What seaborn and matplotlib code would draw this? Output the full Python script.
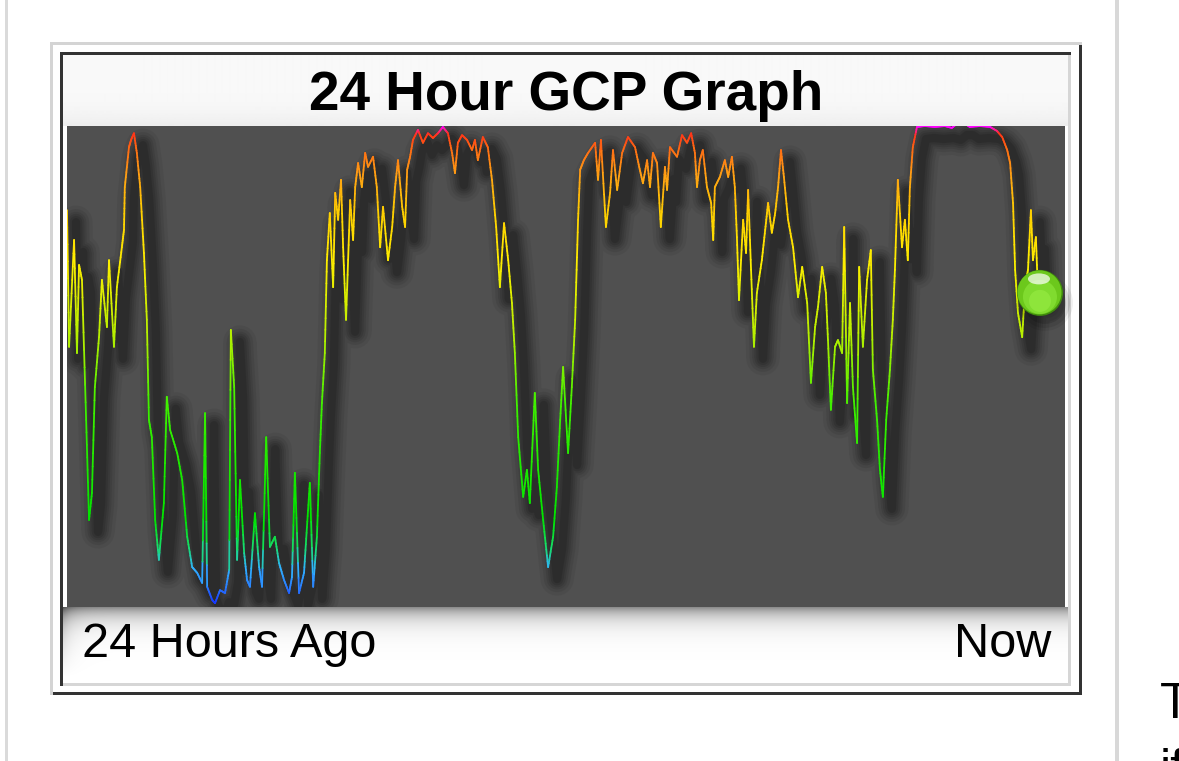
import numpy as np
import matplotlib
matplotlib.use('Agg')
import matplotlib.pyplot as plt
import matplotlib.transforms as mtransforms
from matplotlib.collections import LineCollection
from matplotlib.colors import LinearSegmentedColormap
from matplotlib.patches import Rectangle, Circle, Ellipse
import seaborn as sns

# GCP curve over the last 24 hours (hours since start, value in % of scale)
hours = [0.00, 0.05, 0.17, 0.24, 0.29, 0.36, 0.46, 0.53, 0.60, 0.67, 0.77, 0.84, 0.96, 1.01, 1.13, 1.20, 1.32, 1.37, 1.39, 1.49,
         1.54, 1.61, 1.68, 1.76, 1.85, 1.92, 1.97, 2.04, 2.12, 2.21, 2.33, 2.40, 2.48, 2.65, 2.77, 2.89, 3.01, 3.13, 3.25, 3.32,
         3.37, 3.49, 3.56, 3.68, 3.80, 3.90, 3.94, 4.02, 4.09, 4.16, 4.26, 4.33, 4.40, 4.52, 4.62, 4.69, 4.79, 4.88, 5.00, 5.10,
         5.22, 5.34, 5.41, 5.48, 5.58, 5.70, 5.77, 5.84, 5.92, 6.01, 6.08, 6.13, 6.20, 6.25, 6.32, 6.40, 6.45, 6.52, 6.59, 6.64,
         6.71, 6.81, 6.88, 6.93, 7.00, 7.09, 7.17, 7.24, 7.36, 7.45, 7.53, 7.60, 7.72, 7.82, 7.89, 7.96, 8.06, 8.13, 8.18, 8.25,
         8.32, 8.44, 8.56, 8.68, 8.80, 8.92, 9.04, 9.16, 9.26, 9.33, 9.40, 9.50, 9.62, 9.74, 9.81, 9.88, 10.00, 10.12, 10.22, 10.32,
         10.41, 10.51, 10.61, 10.70, 10.77, 10.85, 10.97, 11.06, 11.13, 11.25, 11.33, 11.45, 11.57, 11.69, 11.78, 11.86, 11.93, 12.05, 12.14, 12.22,
         12.29, 12.34, 12.43, 12.53, 12.70, 12.77, 12.84, 12.96, 13.06, 13.13, 13.23, 13.35, 13.49, 13.66, 13.76, 13.85, 13.95, 14.02, 14.09, 14.19,
         14.28, 14.38, 14.43, 14.50, 14.67, 14.79, 14.91, 15.01, 15.10, 15.15, 15.22, 15.29, 15.39, 15.49, 15.54, 15.58, 15.70, 15.82, 15.90, 15.99,
         16.06, 16.11, 16.16, 16.26, 16.33, 16.38, 16.45, 16.52, 16.59, 16.71, 16.79, 16.86, 16.95, 17.03, 17.10, 17.17, 17.24, 17.34, 17.46, 17.58,
         17.68, 17.80, 17.89, 17.99, 18.06, 18.16, 18.25, 18.30, 18.37, 18.47, 18.54, 18.64, 18.69, 18.76, 18.83, 18.90, 19.00, 19.05, 19.14, 19.24,
         19.33, 19.38, 19.48, 19.55, 19.62, 19.70, 19.79, 19.86, 19.91, 19.98, 20.08, 20.15, 20.22, 20.27, 20.34, 20.44,
         20.63, 20.87, 21.11, 21.28, 21.42, 21.57, 21.71, 21.96, 22.20,
         22.36, 22.49, 22.61, 22.68, 22.75, 22.80, 22.87, 22.97, 23.04, 23.11, 23.18, 23.23, 23.30, 23.35]
gcp = [82.5, 54.1, 76.3, 52.8, 71.1, 68.0, 38.9, 18.1, 23.7, 45.7, 56.1, 68.0, 58.2, 72.1, 54.1, 66.5, 74.8, 78.4, 87.3, 95.6,
       97.1, 98.5, 94.4, 87.3, 73.6, 59.7, 38.9, 35.3, 18.1, 9.8, 21.6, 43.7, 36.8, 32.0, 26.4, 14.6, 8.3, 7.1, 5.0, 40.3,
       4.2, 1.5, 0.8, 3.5, 2.9, 7.7, 57.6, 45.7, 9.8, 26.4, 11.2, 5.6, 4.2, 19.5, 8.3, 4.2, 35.3, 12.5, 14.6, 9.1,
       5.6, 2.9, 6.2, 27.9, 2.9, 7.1, 16.6, 25.8, 4.2, 14.6, 32.0, 42.4, 52.8, 72.1, 81.9, 66.5, 86.1, 80.5, 88.8, 74.8,
       59.7, 84.6, 76.3, 87.3, 92.3, 87.3, 94.4, 91.5, 93.6, 87.3, 74.8, 83.2, 72.1, 79.0, 87.3, 92.9, 83.2, 79.0, 90.9, 93.6,
       97.1, 99.2, 96.5, 98.5, 97.5, 98.5, 99.8, 98.5, 94.4, 90.2, 96.5, 98.1, 97.1, 95.0, 97.1, 92.9, 97.7, 95.6, 88.8, 79.0,
       66.5, 79.8, 72.1, 63.2, 52.8, 35.3, 22.9, 28.5, 21.6, 44.5, 28.5, 18.1, 8.3, 14.6, 24.9, 38.9, 49.9, 32.0, 45.7, 59.7,
       80.5, 90.9, 92.9, 94.4, 96.5, 88.8, 97.1, 79.0, 86.1, 95.0, 86.7, 94.4, 97.7, 95.6, 91.5, 88.1, 92.9, 87.3, 94.4, 92.3,
       79.0, 91.5, 86.7, 95.6, 93.6, 98.1, 96.5, 98.5, 94.4, 87.3, 92.9, 95.0, 87.3, 84.0, 76.3, 87.3, 89.4, 92.9, 89.4, 93.6,
       87.3, 76.9, 63.8, 80.5, 73.6, 86.7, 70.1, 54.1, 65.3, 72.1, 78.4, 84.0, 77.8, 81.9, 87.3, 95.0, 89.4, 80.5, 74.8, 64.4,
       70.7, 63.2, 46.6, 58.2, 62.4, 70.7, 65.3, 55.5, 41.0, 54.1, 55.5, 52.8, 79.0, 42.4, 63.2, 45.7, 34.1, 70.7, 54.1, 68.0,
       74.2, 49.3, 38.9, 28.5, 22.9, 38.9, 49.3, 59.7, 70.1, 88.8, 74.8, 80.5, 72.1, 87.3, 95.6, 99.8,
       100.0, 99.8, 100.0, 99.6, 100.6, 100.6, 99.8, 100.0, 99.8,
       99.0, 97.7, 95.0, 92.3, 84.0, 70.1, 61.1, 56.1, 66.5, 70.1, 82.5, 72.1, 76.9, 65.3]

title = '24 Hour GCP Graph'
left_label = '24 Hours Ago'
right_label = 'Now'

sns.set_theme(style='white')
plt.rcParams['font.family'] = ['Liberation Sans', 'DejaVu Sans']

W, H = 1179, 761
fig = plt.figure(figsize=(W / 100, H / 100), dpi=100)
fig.patch.set_facecolor('white')

# page / frame layer in pixel coordinates (y down)
bg = fig.add_axes([0, 0, 1, 1])
bg.set_xlim(0, W)
bg.set_ylim(H, 0)
bg.axis('off')

bg.add_patch(Rectangle((5, 0), 3, H, color='#dadada', lw=0))
bg.add_patch(Rectangle((1115, 0), 4, H, color='#d8d8d8', lw=0))
# outer ridge
bg.add_patch(Rectangle((50, 42), 1032, 653, color='#d4d4d4', lw=0))
bg.add_patch(Rectangle((53, 45), 1029, 650, color='#333333', lw=0))
bg.add_patch(Rectangle((53, 45), 1026, 647, color='white', lw=0))
# inner box
bg.add_patch(Rectangle((60, 52), 1011, 634, color='#333333', lw=0))
bg.add_patch(Rectangle((63, 55), 1008, 631, color='#d6d6d6', lw=0))
bg.add_patch(Rectangle((63, 55), 1005, 628, color='white', lw=0))

# title band gradient
tb = np.linspace(0, 1, 71)[:, None]
tcol = 0.975 - 0.045 * tb ** 5
bg.imshow(np.repeat(tcol, 2, axis=1), cmap='gray', vmin=0, vmax=1, aspect='auto',
          extent=(63, 1068, 126, 55), interpolation='bilinear', zorder=2)

# soft shadow under the plot area
yy, xx = np.mgrid[0:76, 0:1005]
sh = 0.45 * np.exp(-yy / 11.0) + 0.22 * np.exp(-xx / 9.0) * np.clip(1 - yy / 70.0, 0, 1)
sh = np.clip(sh, 0, 1)
rgba = np.zeros((76, 1005, 4))
rgba[..., 3] = sh
bg.imshow(rgba, aspect='auto', extent=(63, 1068, 683, 607), interpolation='bilinear', zorder=2)

bg.text(566, 110, title, ha='center', va='baseline', fontsize=39.5, fontweight='bold', color='black', zorder=3)
bg.text(82, 657, left_label, ha='left', va='baseline', fontsize=35, color='black', zorder=3)
bg.text(1051, 657, right_label, ha='right', va='baseline', fontsize=35, color='black', zorder=3)
bg.text(1160, 718, 'T', ha='left', va='baseline', fontsize=36, color='black', zorder=3)
bg.text(1160, 784, 'if', ha='left', va='baseline', fontsize=36, color='black', zorder=3)

# plot area
ax = fig.add_axes([67 / W, (H - 607) / H, 998 / W, 481 / H])
ax.set_facecolor('#505050')
ax.set_xlim(0, 24)
ax.set_ylim(0, 100)
ax.set_xticks([])
ax.set_yticks([])
for s in ax.spines.values():
    s.set_visible(False)

# blurred drop shadow of the trace
shadow_tr = mtransforms.offset_copy(ax.transData, fig=fig, x=9, y=-12, units='dots')
for lw, a in [(24, 0.05), (19, 0.07), (15, 0.08), (12, 0.09), (9, 0.10), (6, 0.12)]:
    sns.lineplot(x=hours, y=gcp, ax=ax, color='black', lw=lw, alpha=a, transform=shadow_tr,
                 sort=False, estimator=None, legend=False, solid_joinstyle='round', solid_capstyle='round')
ax.set_xlim(0, 24)
ax.set_ylim(0, 100)

# value coloured trace
cmap = LinearSegmentedColormap.from_list('gcp', [
    (0.00, '#1428ff'), (0.04, '#2a7cff'), (0.08, '#30b4ff'), (0.12, '#18dc70'),
    (0.18, '#00e400'), (0.42, '#3ef000'), (0.56, '#b4f000'), (0.72, '#ffee00'),
    (0.82, '#ffd000'), (0.90, '#ffa014'), (0.955, '#ff6a14'), (0.985, '#ff3418'),
    (0.997, '#ff10c0'), (1.00, '#ff00ff')])
x = np.asarray(hours)
y = np.asarray(gcp)
segs, cols = [], []
for i in range(len(x) - 1):
    f = np.linspace(0, 1, 9)
    px = x[i] + (x[i + 1] - x[i]) * f
    py = y[i] + (y[i + 1] - y[i]) * f
    for j in range(8):
        segs.append([(px[j], py[j]), (px[j + 1], py[j + 1])])
        cols.append(cmap(np.clip((py[j] + py[j + 1]) / 200.0, 0, 1)))
lc = LineCollection(segs, colors=cols, linewidths=1.3, capstyle='round', joinstyle='round', zorder=3)
ax.add_collection(lc)

# glossy ball at the latest value
ov = fig.add_axes([0, 0, 1, 1], facecolor='none')
ov.set_xlim(0, W)
ov.set_ylim(H, 0)
ov.axis('off')
dx, dy = ax.transData.transform((hours[-1], gcp[-1]))
cx, cy = dx + 2, H - dy
for r, a in [(28, 0.06), (25, 0.09), (21, 0.13)]:
    ov.add_patch(Circle((cx + 5, cy + 10), r, color='black', alpha=a, lw=0))
ov.add_patch(Circle((cx, cy), 23, color='#3f8a0c', lw=0))
ov.add_patch(Circle((cx - 0.5, cy - 0.5), 22, color='#6cc81c', lw=0))
ov.add_patch(Circle((cx, cy + 4), 17, color='#86e034', alpha=0.8, lw=0))
ov.add_patch(Circle((cx, cy + 8), 11, color='#98ec44', alpha=0.6, lw=0))
ov.add_patch(Ellipse((cx - 1, cy - 14), 22, 11, color='white', alpha=0.7, lw=0))

fig.savefig('out.png', dpi=100, facecolor='white')
